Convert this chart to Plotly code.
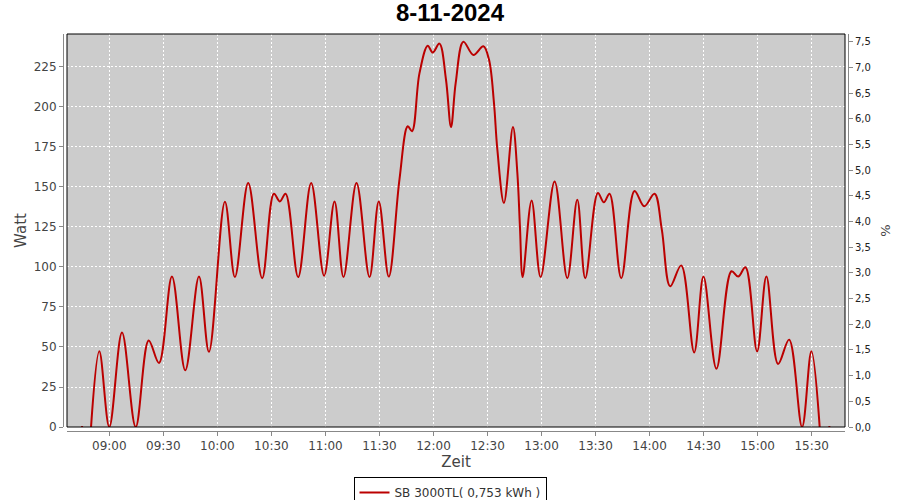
import plotly.graph_objects as go

DATE = "2024-11-08"
TITLE = "8-11-2024"
SERIES_NAME = "SB 3000TL( 0,753 kWh )"

# Sample times (HH:MM:SS) and power values (W); None = gap in data
times = [
    "08:44:18", "08:45:25", "08:47:30",
    "08:49:51", "08:54:27", "09:00:00", "09:07:03", "09:14:39", "09:21:52",
    "09:27:34", "09:34:47", "09:42:10", "09:49:46", "09:55:19", "10:04:11",
    "10:09:44", "10:17:07", "10:24:53", "10:31:22", "10:34:42", "10:37:52",
    "10:44:51", "10:52:04", "10:59:16", "11:05:02", "11:10:02", "11:17:15",
    "11:24:28", "11:29:37", "11:35:10", "11:41:06", "11:45:43", "11:48:05",
    "11:52:12", "11:56:48", "11:59:34", "12:03:17", "12:06:57", "12:09:44",
    "12:12:20", "12:16:36", "12:22:09", "12:27:42", "12:30:49", "12:33:35",
    "12:35:28", "12:39:08", "12:44:07", "12:46:34", "12:48:00", "12:49:30",
    "12:54:29", "12:59:29", "13:07:15", "13:14:18", "13:19:51", "13:24:17",
    "13:31:17", "13:34:36", "13:37:46", "13:44:16", "13:51:38", "13:57:01",
    "14:02:44", "14:06:47", "14:11:26", "14:17:32", "14:24:45", "14:29:55",
    "14:37:07", "14:45:27", "14:49:10", "14:53:13", "14:59:42", "15:04:52",
    "15:11:21", "15:17:27", "15:24:40", "15:29:50", "15:34:26",
    "15:37:00", "15:39:16", "15:40:22",
]
watt = [
    0, 0, None,
    0, 47.3, 0, 59, 0, 54,
    40, 94, 35.4, 94, 47, 140.8,
    93.7, 152.5, 93, 145.8, 141, 145.8,
    93.7, 152.5, 94.5, 141, 93.7, 152.5,
    93.7, 141, 94, 154.6, 187.9, 184.8,
    221, 238.3, 234, 239.6, 217, 187.5,
    215, 240.8, 232.5, 237.9, 229.6, 202.5,
    173.3, 140, 187.5, 158.8, 125.4, 93.7,
    141.6, 93.7, 153.5, 93, 142, 93,
    146.2, 140.4, 145.8, 93, 147.5, 137.9,
    145.8, 123.3, 87.9, 101, 46.6, 94,
    36.4, 97.3, 94, 99.8, 47.3, 94,
    39.4, 54.6, 0, 47.3, 0,
    None, 0, 0,
]

x_range = ["08:36:30", "15:48:30"]
y_range = [0, 245.6]
pct_range = [0, 7.65]
tick_start = "09:00"

x = [f"{DATE} {t}" for t in times]

RED = "#BB0000"
FONT = "DejaVu Sans"

fig = go.Figure()
fig.add_trace(go.Scatter(
    x=x, y=watt, mode="lines", name=SERIES_NAME,
    line=dict(color=RED, width=2, shape="spline", smoothing=1.0),
    connectgaps=False,
))
# invisible trace so the percent axis is drawn
fig.add_trace(go.Scatter(
    x=[x[0]], y=[0], yaxis="y2", mode="lines", showlegend=False,
    opacity=0, hoverinfo="skip",
))

W, H = 900, 500
L, R, T, B = 63, 848, 34, 431          # axis-line positions (px)
PL, PR, PB = 67, 845, 427              # data area edges (px)
pw, ph = R - L, B - T

grid = dict(showgrid=True, gridcolor="white", gridwidth=1, griddash="2px,2px")
axis_common = dict(showline=True, linecolor="#888888", linewidth=1,
                   ticks="outside", ticklen=4, tickcolor="#888888",
                   zeroline=False, automargin=False)

fig.update_layout(
    width=W, height=H,
    margin=dict(l=L, r=W - R, t=T, b=H - B, pad=0, autoexpand=False),
    paper_bgcolor="white", plot_bgcolor="#CCCCCC",
    separators=",.",
    font=dict(family=FONT, size=12, color="#444444"),
    title=dict(text=f"<b>{TITLE}</b>", x=0.5, xref="container", xanchor="center",
               y=1 - 13 / H, yref="container", yanchor="middle",
               font=dict(family="Liberation Sans", size=24, color="black")),
    xaxis=dict(type="date", range=[f"{DATE} {x_range[0]}", f"{DATE} {x_range[1]}"],
               domain=[(PL - L) / pw, (PR - L) / pw], anchor="free", position=0,
               tick0=f"{DATE} {tick_start}", dtick=30 * 60 * 1000, tickformat="%H:%M",
               tickfont=dict(family=FONT, size=12, color="#444444"),
               title=dict(text="Zeit", font=dict(family=FONT, size=15, color="#444444"),
                          standoff=2),
               **grid, **axis_common),
    yaxis=dict(range=y_range, domain=[(B - PB) / ph, 1], anchor="free", position=0,
               dtick=25, tick0=0,
               tickfont=dict(family=FONT, size=12, color="#444444"),
               title=dict(text="Watt", font=dict(family=FONT, size=15, color="#444444"),
                          standoff=2),
               **grid, **axis_common),
    yaxis2=dict(range=pct_range, overlaying="y", side="right", anchor="free", position=1,
                dtick=0.5, tick0=0, tickformat=".1f", showgrid=False,
                tickfont=dict(family=FONT, size=10, color="#222222"),
                title=dict(text="%", font=dict(family=FONT, size=13, color="#444444"),
                           standoff=10),
                **axis_common),
    legend=dict(orientation="h", x=(450 - L) / pw, xanchor="center",
                y=(B - 477) / ph, yanchor="top",
                bordercolor="black", borderwidth=1, bgcolor="white",
                font=dict(family=FONT, size=12, color="#333333"),
                itemwidth=30, tracegroupgap=0),
    shapes=[dict(type="rect", xref="x domain", yref="y domain", x0=0, x1=1, y0=0, y1=1,
                 line=dict(color="black", width=1), layer="above")],
    showlegend=True,
)

fig.write_html("out.html", post_script="document.body.style.margin='0';",
               config={"displayModeBar": False})
